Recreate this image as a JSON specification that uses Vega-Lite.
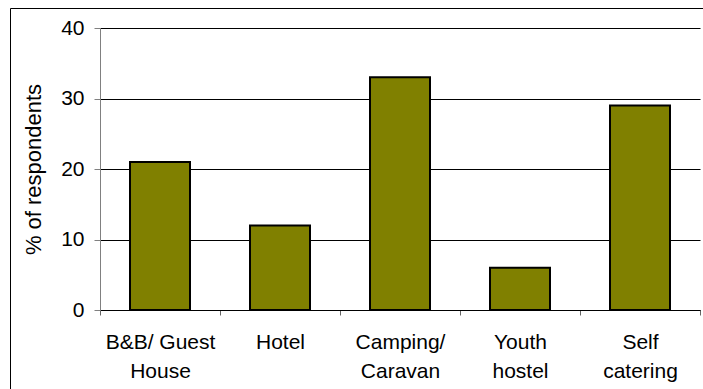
{
  "$schema": "https://vega.github.io/schema/vega-lite/v6.json",
  "width": 693,
  "height": 381,
  "autosize": {"type": "none"},
  "padding": {"left": 10, "top": 8, "right": 0, "bottom": 0},
  "background": "white",
  "config": {
    "font": "Liberation Sans",
    "view": {"stroke": "black", "strokeWidth": 1},
    "axis": {"labelColor": "black", "titleColor": "black", "labelFont": "Liberation Sans", "titleFont": "Liberation Sans"}
  },
  "data": {
    "values": [
      {"accommodation": "B&B/ Guest\nHouse", "pct": 21},
      {"accommodation": "Hotel", "pct": 12},
      {"accommodation": "Camping/\nCaravan", "pct": 33},
      {"accommodation": "Youth\nhostel", "pct": 6},
      {"accommodation": "Self\ncatering", "pct": 29}
    ]
  },
  "mark": {"type": "bar", "fill": "#808000", "stroke": "black", "strokeWidth": 2, "width": {"band": 0.5}},
  "encoding": {
    "x": {
      "field": "accommodation",
      "type": "nominal",
      "sort": null,
      "scale": {"range": [90, 690], "paddingInner": 0, "paddingOuter": 0},
      "axis": {
        "title": null,
        "orient": "bottom",
        "offset": -79,
        "labelAngle": 0,
        "tickBand": "extent",
        "domainColor": "black",
        "tickColor": "#666666",
        "tickSize": 5,
        "labelFontSize": 21,
        "labelPadding": 16,
        "labelLineHeight": 29,
        "labelExpr": "split(datum.label, '\\n')",
        "grid": false
      }
    },
    "y": {
      "field": "pct",
      "type": "quantitative",
      "scale": {"domain": [0, 40], "range": [302, 20], "nice": false, "zero": true},
      "axis": {
        "title": "% of respondents",
        "offset": -90,
        "values": [0, 10, 20, 30, 40],
        "grid": true,
        "gridColor": "black",
        "gridOpacity": 1,
        "gridWidth": 1,
        "domainColor": "#808080",
        "tickColor": "#808080",
        "tickSize": 6,
        "labelFontSize": 21,
        "labelPadding": 10,
        "titleFontSize": 22,
        "titleFontWeight": "normal",
        "titlePadding": 15
      }
    }
  }
}
